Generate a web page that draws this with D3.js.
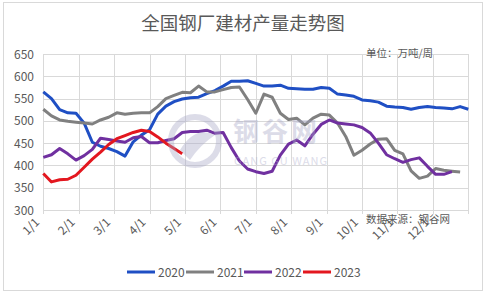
<!DOCTYPE html>
<html>
<head>
<meta charset="utf-8">
<script src="https://cdn.jsdelivr.net/npm/d3@7"></script>
<style>
  body { margin: 0; background: #fff; }
  text { font-family: "Noto Sans CJK SC", "Noto Sans", sans-serif; fill: #595959; }
</style>
</head>
<body>
<script>
// weekly production, 10k tonnes / week
var months = ["1/1", "2/1", "3/1", "4/1", "5/1", "6/1", "7/1", "8/1", "9/1", "10/1", "11/1", "12/1"];
var yTicks = [300, 350, 400, 450, 500, 550, 600, 650];
var years = ["2020", "2021", "2022", "2023"];
var colors = ["#1f4fc4", "#808080", "#7030a0", "#e3171f"];

var s2020 = [565, 550, 525, 518, 517, 495, 452, 443, 438, 431, 421, 453, 468, 480, 515, 533,
    543, 549, 552, 553, 561, 568, 578, 589, 589, 590, 584, 578, 578, 580, 573, 572, 571, 571,
    575, 573, 560, 558, 555, 547, 545, 542, 533, 531, 530, 526, 530, 532, 530, 529, 527, 532, 526];
var s2021 = [526, 511, 502, 499, 497, 495, 493, 502, 508, 518, 515, 517, 518, 518, 532, 550,
    557, 564, 563, 578, 565, 565, 570, 575, 576, 548, 517, 560, 553, 517, 503, 506, 491, 506,
    515, 513, 495, 465, 423, 434, 448, 459, 460, 434, 426, 388, 371, 376, 393, 389, 387, 385];
var s2022 = [418, 424, 438, 426, 412, 422, 436, 461, 458, 455, 452, 462, 465, 451, 451, 456,
    460, 474, 476, 476, 479, 472, 474, 440, 410, 392, 386, 382, 387, 423, 448, 457, 444, 470,
    492, 502, 495, 493, 491, 485, 473, 450, 424, 415, 407, 413, 417, 398, 380, 380, 386];
var s2023 = [382, 363, 368, 369, 378, 396, 414, 430, 447, 460, 467, 474, 479, 476, 464, 450, 438, 426];
var series = [s2020, s2021, s2022, s2023];

var width = 486, height = 294;
var svg = d3.select("body").append("svg")
    .attr("width", width)
    .attr("height", height);

// outer frame
svg.append("rect")
    .attr("x", 3.5).attr("y", 2.5)
    .attr("width", 479).attr("height", 288)
    .style("fill", "#fff")
    .style("stroke", "#d9d9d9");

var x = d3.scaleLinear().domain([0, 52]).range([43.3, 468.3]);
var y = d3.scaleLinear().domain([300, 650]).range([210, 54]);
var monthPos = d3.range(13).map(function (i) { return i * 52 / 12; });

// grid
svg.append("g")
    .selectAll("line")
    .data(yTicks)
    .join("line")
    .attr("x1", x(0)).attr("x2", x(52))
    .attr("y1", function (d) { return Math.round(y(d)) + 0.5; })
    .attr("y2", function (d) { return Math.round(y(d)) + 0.5; })
    .style("stroke", "#d9d9d9");

svg.append("g")
    .selectAll("line")
    .data(monthPos)
    .join("line")
    .attr("x1", function (d) { return Math.round(x(d)) + 0.5; })
    .attr("x2", function (d) { return Math.round(x(d)) + 0.5; })
    .attr("y1", y(650)).attr("y2", y(300) + 4)
    .style("stroke", "#d9d9d9");

// y labels
svg.append("g")
    .selectAll("text")
    .data(yTicks)
    .join("text")
    .attr("x", 34)
    .attr("y", function (d) { return y(d) + 4.5; })
    .attr("text-anchor", "end")
    .style("font-size", "12px")
    .text(function (d) { return d; });

// x labels, rotated
svg.append("g")
    .selectAll("text")
    .data(months)
    .join("text")
    .attr("text-anchor", "end")
    .attr("transform", function (d, i) {
        return "translate(" + (x(monthPos[i]) - 3) + "," + 223 + ") rotate(-45)";
    })
    .style("font-size", "12px")
    .text(function (d) { return d; });

// lines
var line = d3.line()
    .x(function (d, i) { return x(i); })
    .y(function (d) { return y(d); });

svg.append("g")
    .selectAll("path")
    .data(series)
    .join("path")
    .attr("d", line)
    .style("fill", "none")
    .style("stroke", function (d, i) { return colors[i]; })
    .style("stroke-width", 3)
    .style("stroke-linejoin", "round");

// watermark
var wm = svg.append("g").style("opacity", 0.4);
wm.append("circle")
    .attr("cx", 195).attr("cy", 141).attr("r", 24)
    .style("fill", "none")
    .style("stroke", "#a9a9c8")
    .style("stroke-width", 6);
wm.append("path")
    .attr("d", "M180,150 Q195,125 215,135 Q200,145 190,160 Z")
    .style("fill", "#a9a9c8");
wm.append("text")
    .attr("x", 233).attr("y", 141)
    .style("font-size", "26px")
    .style("font-weight", "bold")
    .style("fill", "#a9a9c8")
    .style("letter-spacing", "3px")
    .text("钢谷网");
wm.append("text")
    .attr("x", 234).attr("y", 165)
    .style("font-size", "11px")
    .style("fill", "#a9a9c8")
    .style("letter-spacing", "1px")
    .text("GANG GU WANG");

// title and notes
svg.append("text")
    .attr("x", 243).attr("y", 30)
    .attr("text-anchor", "middle")
    .style("font-size", "18.5px")
    .text("全国钢厂建材产量走势图");

svg.append("text")
    .attr("x", 366).attr("y", 57)
    .style("font-size", "10.5px")
    .text("单位：万吨/周");

svg.append("text")
    .attr("x", 366).attr("y", 223)
    .style("font-size", "10.5px")
    .text("数据来源：钢谷网");

// legend
var legendX = [127, 186, 244, 303];
var legend = svg.append("g")
    .selectAll("g")
    .data(years)
    .join("g")
    .attr("transform", function (d, i) { return "translate(" + legendX[i] + ",272)"; });
legend.append("line")
    .attr("x1", 0).attr("x2", 28)
    .style("stroke", function (d, i) { return colors[i]; })
    .style("stroke-width", 3);
legend.append("text")
    .attr("x", 31).attr("y", 4.5)
    .style("font-size", "12px")
    .text(function (d) { return d; });
</script>
</body>
</html>
